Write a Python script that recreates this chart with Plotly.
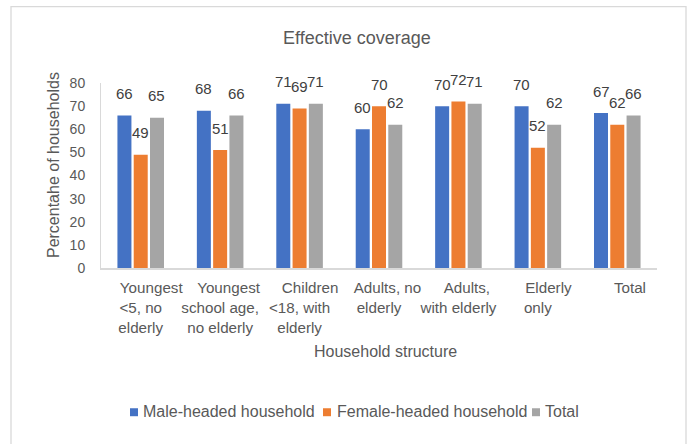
import plotly.graph_objects as go

# Household structure categories (line breaks as they wrap under the axis)
categories = ["Youngest <5, no elderly", "Youngest school age, no elderly",
              "Children <18, with elderly", "Adults, no elderly",
              "Adults, with elderly", "Elderly only", "Total"]
tick_labels = ["&nbsp;&nbsp;&nbsp;&nbsp;&nbsp;Youngest<br>&lt;5, no<br>elderly",
               "&nbsp;&nbsp;&nbsp;&nbsp;Youngest<br>school age,<br>no elderly",
               "&nbsp;&nbsp;&nbsp;&nbsp;&nbsp;Children<br>&lt;18, with<br>elderly",
               "&nbsp;&nbsp;&nbsp;&nbsp;Adults, no<br>elderly",
               "&nbsp;&nbsp;&nbsp;&nbsp;Adults,<br>with elderly",
               "&nbsp;&nbsp;&nbsp;&nbsp;&nbsp;Elderly<br>only",
               "&nbsp;&nbsp;&nbsp;&nbsp;&nbsp;&nbsp;Total"]

series_names = ["Male-headed household", "Female-headed household", "Total"]
male_values = [66, 68, 71, 60, 70, 70, 67]
female_values = [49, 51, 69, 70, 72, 52, 62]
total_values = [65, 66, 71, 62, 71, 62, 66]
series_values = [male_values, female_values, total_values]
series_colors = ["#4472C4", "#ED7D31", "#A5A5A5"]

y_ticks = [0, 10, 20, 30, 40, 50, 60, 70, 80]

W, H = 691, 444
L, R, T, B = 101, 657, 82.7, 268.3
BARGAP, GROUPGAP = 0.385, 0.14
FONT = "Arial, Liberation Sans, sans-serif"


def px(X):
    return (X - L) / (R - L)


def py(Y):
    return (B - Y) / (B - T)


fig = go.Figure()
for name, vals, col in zip(series_names, series_values, series_colors):
    fig.add_trace(go.Bar(x=categories, y=vals, name=name,
                         marker=dict(color=col, line=dict(width=0)),
                         showlegend=False))

# value labels sitting above each bar
slot = (R - L) / len(categories) * (1 - BARGAP) / len(series_values)
annotations = []
for i, vals in enumerate(series_values):
    for cat, v in zip(categories, vals):
        annotations.append(dict(x=cat, y=v, xref="x", yref="y", text=str(v),
                                showarrow=False, xshift=(i - 1) * slot, yshift=22,
                                yanchor="middle", xanchor="center",
                                font=dict(family=FONT, size=15, color="#404040")))

# chart title and axis titles
annotations.append(dict(x=px(357), y=py(38), xref="paper", yref="paper",
                        text="Effective coverage", showarrow=False,
                        xanchor="center", yanchor="middle",
                        font=dict(family=FONT, size=18, color="#595959")))
annotations.append(dict(x=px(385), y=py(352), xref="paper", yref="paper",
                        text="Household structure", showarrow=False,
                        xanchor="center", yanchor="middle",
                        font=dict(family=FONT, size=16, color="#595959")))
annotations.append(dict(x=px(53), y=py(165), xref="paper", yref="paper",
                        text="Percentahe of households", showarrow=False,
                        textangle=-90, xanchor="center", yanchor="middle",
                        font=dict(family=FONT, size=16, color="#595959")))

# legend: small squares followed by the series names
shapes = []
legend_sq_x = [130, 323, 532]
legend_txt_x = [141, 335, 543]
leg_y = 413
for name, col, sx, tx in zip(series_names, series_colors, legend_sq_x, legend_txt_x):
    shapes.append(dict(type="rect", xref="paper", yref="paper",
                       x0=px(sx), x1=px(sx + 8), y0=py(leg_y + 4), y1=py(leg_y - 4),
                       fillcolor=col, line=dict(width=0)))
    annotations.append(dict(x=px(tx), y=py(leg_y - 1), xref="paper", yref="paper",
                            text=name, showarrow=False, xanchor="left",
                            yanchor="middle",
                            font=dict(family=FONT, size=16, color="#595959")))

# outer chart border
shapes.append(dict(type="rect", xref="paper", yref="paper",
                   x0=px(11), x1=px(686), y0=py(460), y1=py(6),
                   line=dict(color="#D9D9D9", width=1.3), fillcolor="rgba(0,0,0,0)",
                   layer="below"))

fig.update_layout(
    width=W, height=H,
    margin=dict(l=L, r=W - R, t=T, b=H - B, pad=0),
    paper_bgcolor="white", plot_bgcolor="white",
    barmode="group", bargap=BARGAP, bargroupgap=GROUPGAP,
    annotations=annotations, shapes=shapes,
    font=dict(family=FONT, color="#595959"),
    xaxis=dict(tickmode="array", tickvals=categories, ticktext=tick_labels,
               tickangle=0,
               showline=True, linecolor="#D9D9D9", linewidth=1.5,
               showgrid=False, zeroline=False, ticks="",
               tickfont=dict(family=FONT, size=15.2, color="#595959"),
               ticklabelstandoff=5, fixedrange=True),
    yaxis=dict(range=[0, 80], tickvals=y_ticks,
               showline=True, linecolor="#D9D9D9", linewidth=1,
               showgrid=False, zeroline=False, ticks="",
               tickfont=dict(family=FONT, size=14, color="#595959"),
               ticklabelstandoff=12, fixedrange=True),
)

fig.write_html("out.html", config={"displayModeBar": False})
